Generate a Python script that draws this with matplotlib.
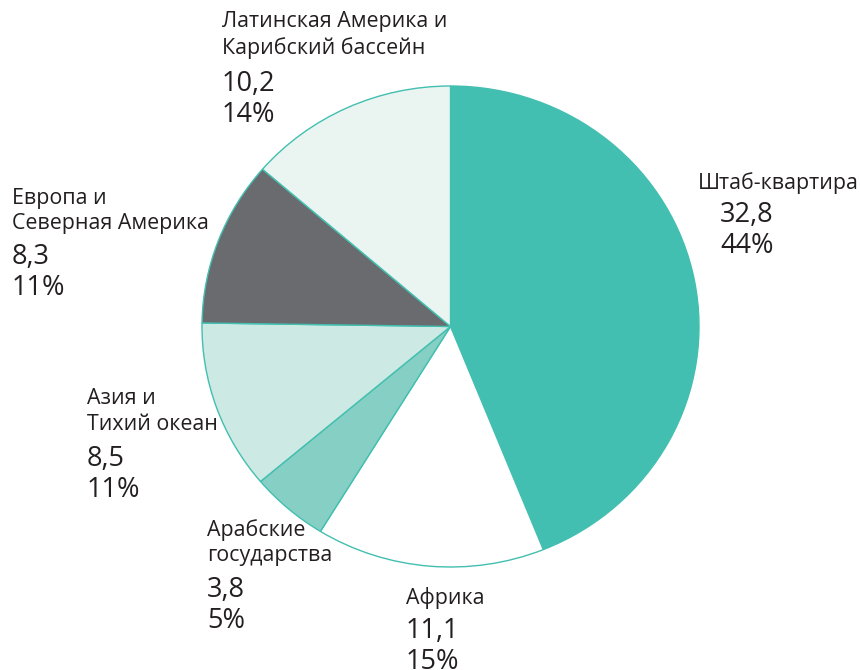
import matplotlib
matplotlib.use("Agg")
import matplotlib.pyplot as plt

plt.rcParams['font.family'] = ['Open Sans', 'DejaVu Sans']

# data (million)
names = ['Штаб-квартира', 'Африка', 'Арабские\nгосударства', 'Азия и\nТихий океан',
         'Европа и\nСеверная Америка', 'Латинская Америка и\nКарибский бассейн']
values = [32.8, 11.1, 3.8, 8.5, 8.3, 10.2]
colors = ['#42bfb0', '#ffffff', '#86cfc4', '#cde9e3', '#6a6b6e', '#eaf5f2']

total = sum(values)
pcts = [round(v / total * 100) for v in values]

W, H = 861, 670
cx, cy, rx, ry = 450.5, 326.5, 248.5, 240.5  # pie centre / radii in pixels

fig = plt.figure(figsize=(W / 100, H / 100), dpi=100)
ax = fig.add_axes([0, 0, 1, 1])
ax.pie(values, colors=colors, startangle=90, counterclock=False,
       radius=1, frame=True,
       wedgeprops=dict(edgecolor='#42bfb0', linewidth=1))
ax.set_aspect('auto')
ax.set_xlim(-cx / rx, (W - cx) / rx)
ax.set_ylim((cy - H) / ry, cy / ry)
ax.axis('off')

# label anchors in pixels: x, y of first name line, x offset for numbers, gap
anchors = [(698, 183, 22, 32), (406, 598, 0, 33), (207, 530, 0, 34),
           (87, 398, 0, 35), (12, 198, 0, 33), (222, 22, 0, 36)]

txt = '#231f20'


def put(x, y, s, size):
    fig.text(x / W, 1 - y / H, s, fontsize=size, color=txt,
             ha='left', va='center')


for name, v, p, (x, y, dx, gap) in zip(names, values, pcts, anchors):
    lines = name.split('\n')
    for i, ln in enumerate(lines):
        put(x, y + i * 26, ln, 15.4)
    yy = y + (len(lines) - 1) * 26 + gap
    put(x + dx, yy, f'{v:.1f}'.replace('.', ','), 19.5)
    put(x + dx, yy + 31, f'{p}%', 19.5)

fig.savefig('out.png', dpi=100)
